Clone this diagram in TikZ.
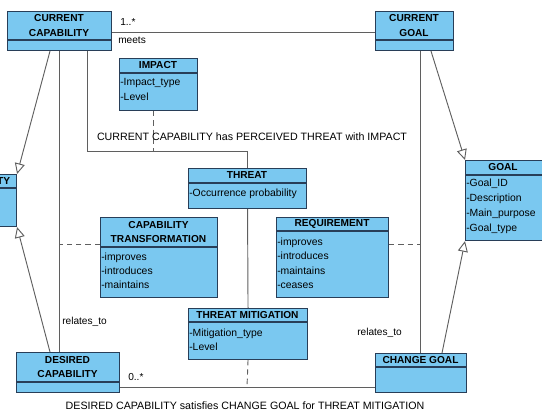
\documentclass[tikz,border=0pt]{standalone}
\usepackage{fontspec}
\setmainfont{Liberation Sans}
\usepackage{tikz}
\usetikzlibrary{positioning,arrows.meta}

\definecolor{clsfill}{RGB}{122,200,240}
\definecolor{clsdraw}{RGB}{40,62,88}
\definecolor{linkgray}{RGB}{95,95,95}

\begin{document}
\begin{tikzpicture}[x=0.75pt,y=-0.75pt,
    cls/.style={draw=clsdraw,fill=clsfill,line width=0.8pt,anchor=north west,inner sep=0pt},
    div/.style={draw=clsdraw,line width=0.8pt},
    title/.style={font=\bfseries\fontsize{7.6}{10.6}\selectfont,align=center,inner sep=0pt},
    attr/.style={font=\fontsize{7.8}{9}\selectfont,anchor=base west,inner sep=0pt},
    lbl/.style={font=\fontsize{7.6}{9}\selectfont,inner sep=0pt},
    biglbl/.style={font=\fontsize{8}{9}\selectfont,inner sep=0pt},
    link/.style={draw=linkgray,line width=0.7pt},
    dashline/.style={draw=linkgray,line width=0.7pt,dash pattern=on 4pt off 3pt},
    gen/.style={link,-{Triangle[open,length=8pt,width=7.5pt]}}
  ]
    \useasboundingbox (0,0) rectangle (542,414);
    \clip (0,0) rectangle (542,414);

    % class boxes
    \node[cls,minimum width=78pt,minimum height=29.25pt] (curcap) at (7,11) {};
    \node[cls,minimum width=58.5pt,minimum height=29.25pt] (curgoal) at (375,11) {};
    \node[cls,minimum width=58.5pt,minimum height=39pt] (impact) at (119,58) {};
    \node[cls,minimum width=88.5pt,minimum height=30pt] (threat) at (188,168) {};
    \node[cls,minimum width=87.75pt,minimum height=60pt] (captrans) at (100,217) {};
    \node[cls,minimum width=84pt,minimum height=60pt] (req) at (276,217) {};
    \node[cls,minimum width=89.25pt,minimum height=38.25pt] (threatmit) at (188,308) {};
    \node[cls,minimum width=77.25pt,minimum height=30pt] (descap) at (16,352) {};
    \node[cls,minimum width=68.25pt,minimum height=29.25pt] (chgoal) at (375,353) {};
    \node[cls,minimum width=60pt,minimum height=60pt] (goal) at (465,160) {};
    \node[cls,minimum width=54pt,minimum height=39pt] (cap) at (-56,174) {};

    % dividers
    \draw[div] (curcap.west |- 0,40) -- (curcap.east |- 0,40);
    \draw[div] (curgoal.west |- 0,40) -- (curgoal.east |- 0,40);
    \draw[div] (impact.west |- 0,73) -- (impact.east |- 0,73);
    \draw[div] (threat.west |- 0,183) -- (threat.east |- 0,183);
    \draw[div] (captrans.west |- 0,247) -- (captrans.east |- 0,247);
    \draw[div] (req.west |- 0,231) -- (req.east |- 0,231);
    \draw[div] (threatmit.west |- 0,322) -- (threatmit.east |- 0,322);
    \draw[div] (descap.west |- 0,382) -- (descap.east |- 0,382);
    \draw[div] (chgoal.west |- 0,367) -- (chgoal.east |- 0,367);
    \draw[div] (goal.west |- 0,175) -- (goal.east |- 0,175);
    \draw[div] (cap.west |- 0,188) -- (cap.east |- 0,188);

    % titles
    \node[title] (curcap-t) at (59,25.5) {CURRENT\\CAPABILITY};
    \node[title] (curgoal-t) at (414,25.5) {CURRENT\\GOAL};
    \node[title] (impact-t) at (158,65.5) {IMPACT};
    \node[title] (threat-t) at (247,175.5) {THREAT};
    \node[title] (captrans-t) at (158.5,232) {CAPABILITY\\TRANSFORMATION};
    \node[title] (req-t) at (332,224) {REQUIREMENT};
    \node[title] (threatmit-t) at (247.5,315) {THREAT MITIGATION};
    \node[title] (descap-t) at (67.5,367) {DESIRED\\CAPABILITY};
    \node[title] (chgoal-t) at (420.5,360) {CHANGE GOAL};
    \node[title] (goal-t) at (503,167.5) {GOAL};
    \node[title] (cap-t) at (-20,181) {CAPABILITY};

    % attributes
    \foreach \a [count=\i] in {-Impact\_type,-Level}
      \node[attr] (impact-a\i) at (120,85.5+15*\i-15) {\a};
    \node[attr] (threat-a1) at (189,196.5) {-Occurrence probability};
    \foreach \a [count=\i] in {-improves,-introduces,-maintains}
      \node[attr] (captrans-a\i) at (101,260.5+14*\i-14) {\a};
    \foreach \a [count=\i] in {-improves,-introduces,-maintains,-ceases}
      \node[attr] (req-a\i) at (277,245.5+14.3*\i-14.3) {\a};
    \foreach \a [count=\i] in {-Mitigation\_type,-Level}
      \node[attr] (threatmit-a\i) at (189,336.5+14*\i-14) {\a};
    \foreach \a [count=\i] in {-Goal\_ID,-Description,-Main\_purpose,-Goal\_type}
      \node[attr] (goal-a\i) at (466,186.5+15*\i-15) {\a};

    % points on the association lines
    \coordinate (hasbend) at (87,151);
    \coordinate (hasknot) at (153,151);
    \coordinate (satknot) at (247,387);

    % associations
    \draw[link] (curcap.east |- 0,32) -- (curgoal.west |- 0,32);
    \draw[link] (descap.east |- 0,387) -- (chgoal.west |- 0,387);
    \draw[link] (curcap.south -| hasbend) -- (hasbend) -| (threat.north);
    \draw[link] (threat.south) -- (threatmit.north);
    \draw[link] (curcap.south -| 59,0) -- (descap.north -| 59,0);
    \draw[link] (curgoal.south -| 420,0) -- (chgoal.north -| 420,0);
    \draw[dashline] (impact.south -| hasknot) -- (hasknot);
    \draw[dashline] (threatmit.south) -- (satknot);
    \draw[dashline] (captrans.west |- 0,244) -- (59,244);
    \draw[dashline] (req.east |- 0,244) -- (420,244);

    % generalizations
    \draw[gen] (curcap.south -| 50,0) -- (cap.north east);
    \draw[gen] (descap.north -| 50,0) -- (cap.south east);
    \draw[gen] (curgoal.south -| 431,0) -- (goal.north west);
    \draw[gen] (chgoal.north -| 442,0) -- (goal.south west);

    % labels
    \node[lbl,anchor=west] (one-many) at (120,22) {1..*};
    \node[lbl,anchor=west] (meets) at (118,40) {meets};
    \node[biglbl] (has) at (252,137) {CURRENT CAPABILITY has PERCEIVED THREAT with IMPACT};
    \node[lbl,anchor=west] (rel-l) at (62,322) {relates\_to};
    \node[lbl,anchor=west] (rel-r) at (357,333) {relates\_to};
    \node[lbl,anchor=west] (zero-many) at (128,377) {0..*};
    \node[biglbl] (sat) at (245,406) {DESIRED CAPABILITY satisfies CHANGE GOAL for THREAT MITIGATION};
  \end{tikzpicture}
\end{document}
